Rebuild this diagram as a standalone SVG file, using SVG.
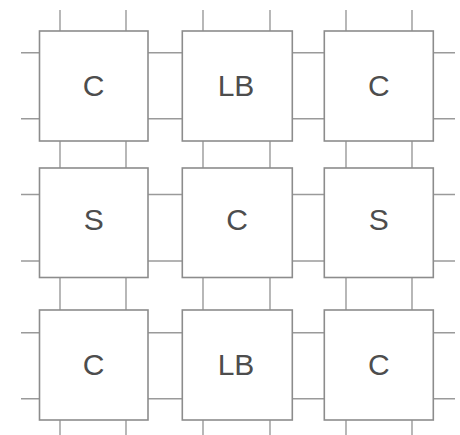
<svg xmlns="http://www.w3.org/2000/svg" width="460" height="435" viewBox="0 0 460 435">
<style>
.box{fill:#fff;stroke:#8c8c8c;stroke-width:1.6}
.w{stroke:#9a9a9a;stroke-width:1.4;fill:none}
.t{font-family:"Liberation Sans",Arial,sans-serif;font-size:30px;fill:#4d4d4d;text-anchor:middle}
</style>
<rect width="460" height="435" fill="#fff"/>
<g id="connectors" class="w">
<path d="M60 10V435M126 10V435"/>
<path d="M203 10V435M270 10V435"/>
<path d="M346 10V435M412 10V435"/>
<path d="M21 52.7H455M21 118.7H455"/>
<path d="M21 194.5H455M21 261H455"/>
<path d="M21 332.7H455M21 398.7H455"/>
</g>
<g id="n11"><rect class="box" x="39.5" y="31" width="108.5" height="110"/><text class="t" x="93.7" y="96">C</text></g>
<g id="n12"><rect class="box" x="182.3" y="31" width="110" height="110"/><text class="t" x="236" y="96">LB</text></g>
<g id="n13"><rect class="box" x="324.3" y="31" width="109" height="110"/><text class="t" x="378.8" y="96">C</text></g>
<g id="n21"><rect class="box" x="39.5" y="168" width="108.5" height="109.5"/><text class="t" x="93.7" y="230">S</text></g>
<g id="n22"><rect class="box" x="182.3" y="168" width="110" height="109.5"/><text class="t" x="237" y="230">C</text></g>
<g id="n23"><rect class="box" x="324.3" y="168" width="109" height="109.5"/><text class="t" x="378.8" y="230">S</text></g>
<g id="n31"><rect class="box" x="39.5" y="310" width="108.5" height="110"/><text class="t" x="93.7" y="375">C</text></g>
<g id="n32"><rect class="box" x="182.3" y="310" width="110" height="110"/><text class="t" x="236" y="375">LB</text></g>
<g id="n33"><rect class="box" x="324.3" y="310" width="109" height="110"/><text class="t" x="378.8" y="375">C</text></g>
</svg>
